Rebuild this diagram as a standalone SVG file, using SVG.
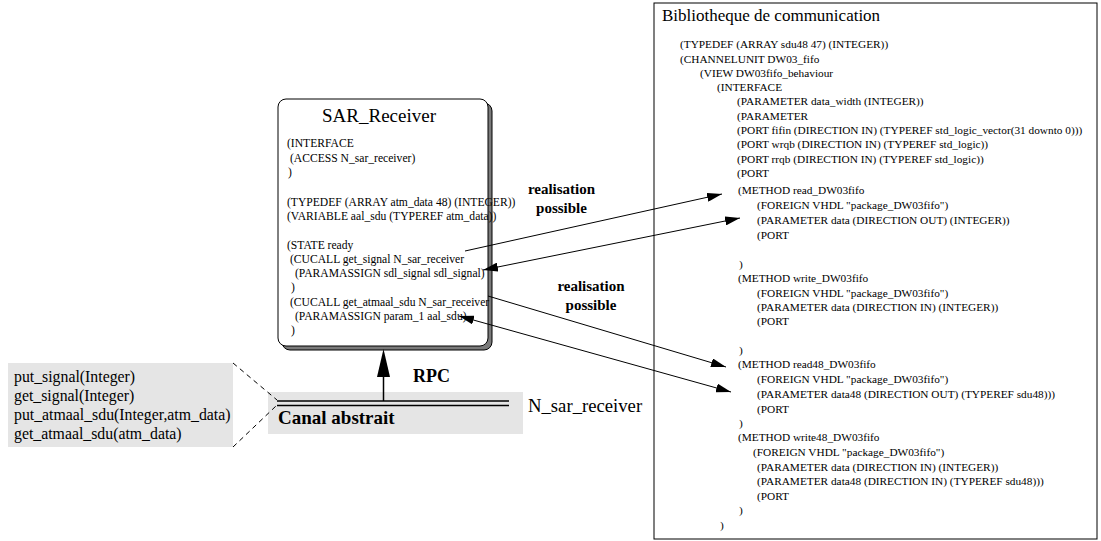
<svg xmlns="http://www.w3.org/2000/svg" width="1101" height="541" viewBox="0 0 1101 541">
<defs>
<style>
.t{font-family:"Liberation Serif","Times New Roman",serif;fill:#000}
.sm{font-size:11.6px}
.rb{font-size:11.3px}
.bold{font-weight:bold}
.conn{stroke:#000;stroke-width:1;fill:none}
</style>
<marker id="ah" viewBox="0 0 15 9" refX="15" refY="4.5" markerWidth="15" markerHeight="9" markerUnits="userSpaceOnUse" orient="auto-start-reverse">
<path d="M0,0 L15,4.5 L0,9 z" fill="#000"/>
</marker>
</defs>
<rect width="1101" height="541" fill="#fff"/>

<g id="interface-list">
<rect x="8" y="363" width="225" height="84" fill="#e5e5e5"/>
<text class="t" font-size="15.8" x="14" y="382">put_signal(Integer)</text>
<text class="t" font-size="15.8" x="14" y="401">get_signal(Integer)</text>
<text class="t" font-size="15.8" x="14" y="420">put_atmaal_sdu(Integer,atm_data)</text>
<text class="t" font-size="15.8" x="14" y="439">get_atmaal_sdu(atm_data)</text>
</g>

<g id="canal-abstrait">
<rect x="268" y="392" width="255" height="42" fill="#e5e5e5"/>
<line x1="277" y1="401" x2="509" y2="401" stroke="#000" stroke-width="1.5"/>
<line x1="277" y1="405.5" x2="509" y2="405.5" stroke="#000" stroke-width="1.5"/>
<text class="t bold" font-size="19" x="278" y="424">Canal abstrait</text>
<text class="t" font-size="18.7" x="528" y="412">N_sar_receiver</text>
</g>

<g id="sar-receiver">
<rect x="282" y="103" width="210" height="247" rx="8" fill="#7a7a7a" stroke="#000" stroke-width="1"/>
<rect x="278" y="99" width="210" height="247" rx="8" fill="#fff" stroke="#000" stroke-width="1"/>
<text class="t" font-size="19" x="379" y="122" text-anchor="middle">SAR_Receiver</text>
<text class="t sm" x="287" y="147">(INTERFACE</text>
<text class="t sm" x="290" y="161.5">(ACCESS N_sar_receiver)</text>
<text class="t sm" x="288" y="176">)</text>
<text class="t sm" x="287" y="205.5">(TYPEDEF (ARRAY atm_data 48) (INTEGER))</text>
<text class="t sm" x="287" y="220">(VARIABLE aal_sdu (TYPEREF atm_data))</text>
<text class="t sm" x="287" y="248.5">(STATE ready</text>
<text class="t sm" x="290" y="263">(CUCALL get_signal N_sar_receiver</text>
<text class="t sm" x="295" y="277">(PARAMASSIGN sdl_signal sdl_signal)</text>
<text class="t sm" x="291" y="291">)</text>
<text class="t sm" x="290" y="305.5">(CUCALL get_atmaal_sdu N_sar_receiver</text>
<text class="t sm" x="295" y="320">(PARAMASSIGN param_1 aal_sdu)</text>
<text class="t sm" x="291" y="334">)</text>
</g>

<g id="bibliotheque">
<rect x="654" y="3" width="443" height="536" fill="none" stroke="#000" stroke-width="1"/>
<text class="t" font-size="17" x="662" y="21">Bibliotheque de communication</text>
<text class="t rb" x="680" y="48">(TYPEDEF (ARRAY sdu48 47) (INTEGER))</text>
<text class="t rb" x="680" y="62.5">(CHANNELUNIT DW03_fifo</text>
<text class="t rb" x="700" y="77">(VIEW DW03fifo_behaviour</text>
<text class="t rb" x="717" y="91">(INTERFACE</text>
<text class="t rb" x="737" y="105">(PARAMETER data_width (INTEGER))</text>
<text class="t rb" x="737" y="119.5">(PARAMETER</text>
<text class="t rb" x="737" y="134">(PORT fifin (DIRECTION IN) (TYPEREF std_logic_vector(31 downto 0)))</text>
<text class="t rb" x="737" y="148">(PORT wrqb (DIRECTION IN) (TYPEREF std_logic))</text>
<text class="t rb" x="737" y="162.5">(PORT rrqb (DIRECTION IN) (TYPEREF std_logic))</text>
<text class="t rb" x="737" y="177">(PORT</text>
<text class="t rb" x="738" y="193.5">(METHOD read_DW03fifo</text>
<text class="t rb" x="757" y="209">(FOREIGN VHDL "package_DW03fifo")</text>
<text class="t rb" x="757" y="224">(PARAMETER data (DIRECTION OUT) (INTEGER))</text>
<text class="t rb" x="757" y="238.5">(PORT</text>
<text class="t rb" x="739" y="267.5">)</text>
<text class="t rb" x="738" y="281.5">(METHOD write_DW03fifo</text>
<text class="t rb" x="757" y="296.5">(FOREIGN VHDL "package_DW03fifo")</text>
<text class="t rb" x="757" y="310.5">(PARAMETER data (DIRECTION IN) (INTEGER))</text>
<text class="t rb" x="757" y="324.5">(PORT</text>
<text class="t rb" x="739" y="353.5">)</text>
<text class="t rb" x="738" y="367.5">(METHOD read48_DW03fifo</text>
<text class="t rb" x="757" y="382.5">(FOREIGN VHDL "package_DW03fifo")</text>
<text class="t rb" x="757" y="398">(PARAMETER data48 (DIRECTION OUT) (TYPEREF sdu48)))</text>
<text class="t rb" x="757" y="412.5">(PORT</text>
<text class="t rb" x="739" y="426.5">)</text>
<text class="t rb" x="738" y="441">(METHOD write48_DW03fifo</text>
<text class="t rb" x="753" y="456">(FOREIGN VHDL "package_DW03fifo")</text>
<text class="t rb" x="757" y="470.5">(PARAMETER data (DIRECTION IN) (INTEGER))</text>
<text class="t rb" x="757" y="485">(PARAMETER data48 (DIRECTION IN) (TYPEREF sdu48)))</text>
<text class="t rb" x="757" y="499.5">(PORT</text>
<text class="t rb" x="739" y="513.5">)</text>
<text class="t rb" x="720" y="528.5">)</text>
</g>

<g id="connectors">
<line x1="233" y1="363" x2="277" y2="400" stroke="#000" stroke-width="1" stroke-dasharray="5,4"/>
<line x1="233" y1="447" x2="276" y2="406" stroke="#000" stroke-width="1" stroke-dasharray="5,4"/>
<line x1="383.5" y1="401" x2="383.5" y2="376" stroke="#000" stroke-width="1.5"/>
<polygon points="383.5,349 377,377 390,377" fill="#000"/>
<line class="conn" x1="465" y1="251" x2="722" y2="194" marker-end="url(#ah)"/>
<line class="conn" x1="483" y1="270" x2="740" y2="218" marker-start="url(#ah)" marker-end="url(#ah)"/>
<line class="conn" x1="488" y1="296" x2="726" y2="367" marker-end="url(#ah)"/>
<line class="conn" x1="459" y1="316" x2="731" y2="392" marker-start="url(#ah)" marker-end="url(#ah)"/>
</g>

<g id="labels">
<text class="t bold" font-size="18" x="413" y="382">RPC</text>
<text class="t bold" font-size="15" x="561.5" y="194" text-anchor="middle">realisation</text>
<text class="t bold" font-size="15" x="561.5" y="212.5" text-anchor="middle">possible</text>
<text class="t bold" font-size="15" x="591" y="291" text-anchor="middle">realisation</text>
<text class="t bold" font-size="15" x="591" y="309.5" text-anchor="middle">possible</text>
</g>
</svg>
